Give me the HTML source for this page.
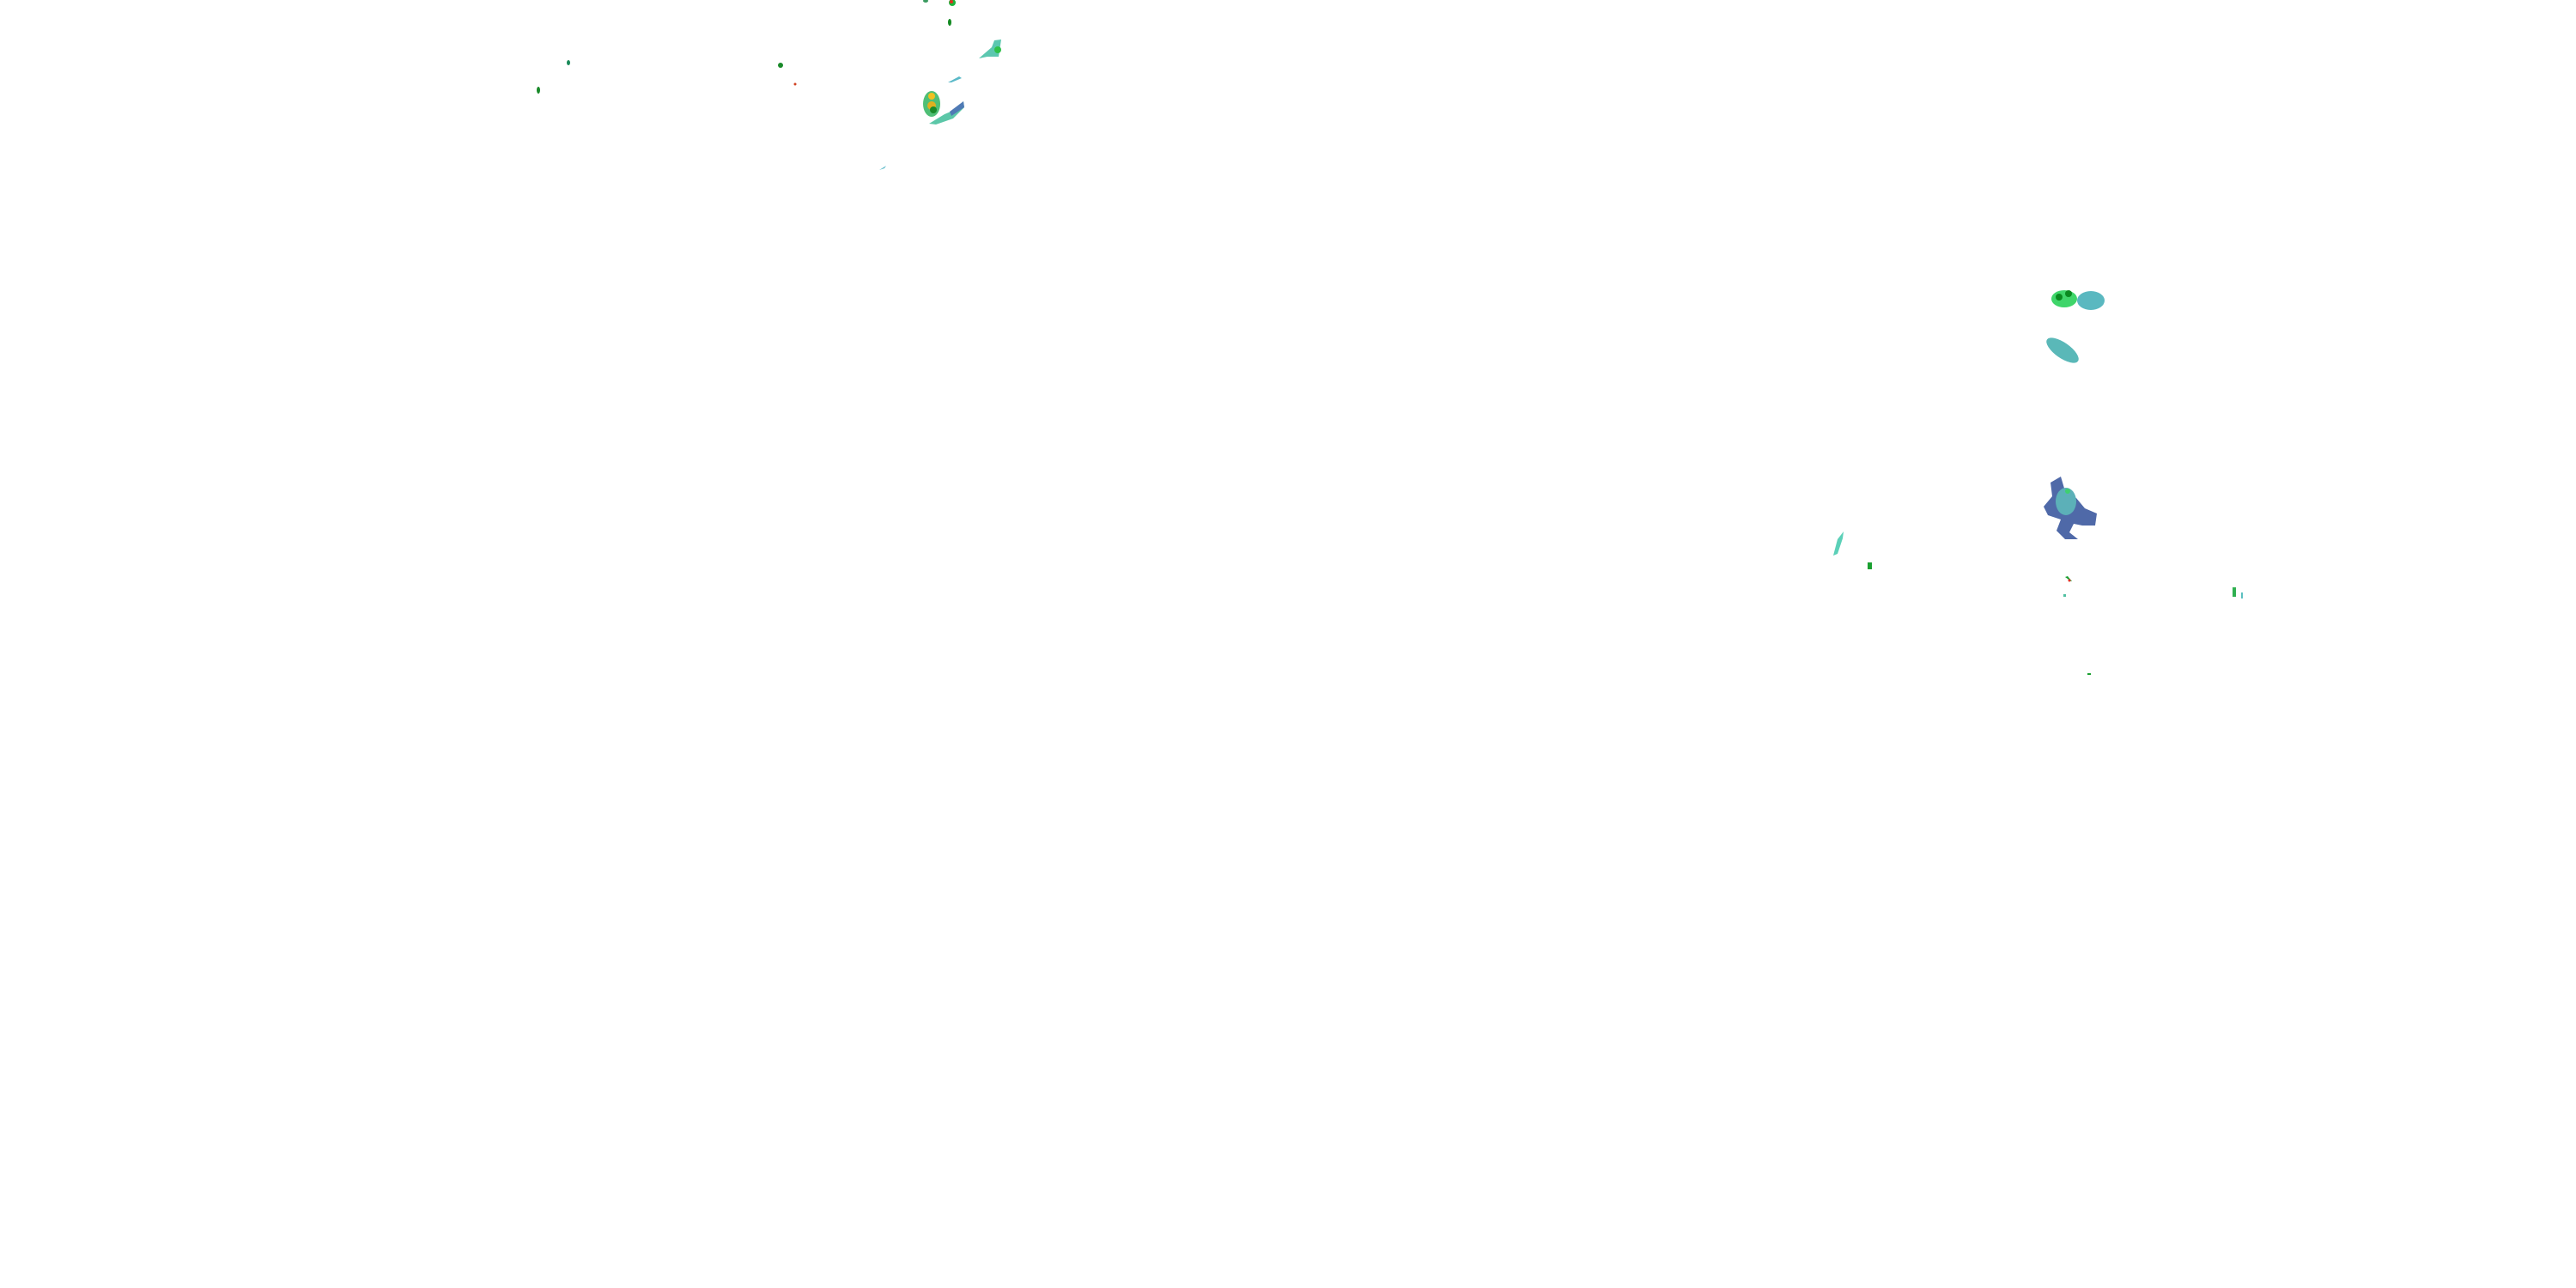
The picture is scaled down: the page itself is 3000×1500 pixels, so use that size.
<!DOCTYPE html>
<html><head><meta charset="utf-8"><style>html,body{margin:0;padding:0;background:#fff;width:3000px;height:1500px;overflow:hidden}</style></head>
<body>
<svg width="3000" height="1500" xmlns="http://www.w3.org/2000/svg">
<ellipse cx="1109" cy="3" rx="4" ry="4" fill="#1db33a"/><circle cx="1108" cy="2" r="2" fill="#e03020"/>
<ellipse cx="1078" cy="1" rx="3" ry="2" fill="#3a9a60"/>
<ellipse cx="1106" cy="26" rx="2" ry="4" fill="#138a22"/>
<path d="M1140 68 L1155 55 L1158 47 L1166 46 L1163 66 L1150 66 Z" fill="#5cc7b0"/>
<circle cx="1162" cy="58" r="4" fill="#2fc14a"/>
<path d="M1104 96 L1117 89 L1120 91 L1108 96 Z" fill="#5ab9c8"/>
<ellipse cx="1085" cy="121" rx="10" ry="15" fill="#4fbf76"/>
<circle cx="1085" cy="112" r="4" fill="#f0c020"/><circle cx="1085" cy="123" r="5" fill="#e0b020"/><circle cx="1087" cy="128" r="4" fill="#1a8a2a"/>
<path d="M1082 144 L1100 133 L1112 128 L1122 118 L1123 125 L1110 138 L1090 145 Z" fill="#5cc7a8"/>
<path d="M1106 130 L1122 118 L1123 125 L1108 135 Z" fill="#4f7ab5"/>
<ellipse cx="627" cy="105" rx="2" ry="4" fill="#1a8a2a"/>
<ellipse cx="662" cy="73" rx="2" ry="3" fill="#1a8a5a"/>
<ellipse cx="909" cy="76" rx="3" ry="3" fill="#1a8a2a"/>
<circle cx="926" cy="98" r="1.5" fill="#d04020"/>
<path d="M1024 198 L1032 193 L1030 196 Z" fill="#5ab9c8"/>
<ellipse cx="2404" cy="348" rx="15" ry="10" fill="#3fd56a"/>
<circle cx="2398" cy="346" r="4" fill="#0a8a20"/><circle cx="2409" cy="342" r="4" fill="#0a8a20"/>
<ellipse cx="2435" cy="350" rx="16" ry="11" fill="#5ab8c0"/>
<ellipse cx="2402" cy="408" rx="22" ry="9" transform="rotate(35 2402 408)" fill="#5ab8b8"/>
<path d="M2388 562 L2400 555 L2405 572 L2418 580 L2428 592 L2442 598 L2440 612 L2425 612 L2415 610 L2410 620 L2420 628 L2405 628 L2395 618 L2400 605 L2385 600 L2380 590 L2390 578 Z" fill="#4f69a8"/>
<ellipse cx="2406" cy="584" rx="12" ry="16" fill="#5cb0b8"/>
<circle cx="2408" cy="572" r="3" fill="#3fcf70"/>
<path d="M2135 647 L2140 628 L2147 619 L2146 627 L2140 645 Z" fill="#5cd0b8"/>
<rect x="2175" y="655" width="5" height="8" fill="#1aa030"/>
<path d="M2405 672 L2412 677 L2413 677 L2408 671 Z" fill="#1aa030"/><circle cx="2410" cy="676" r="1.5" fill="#e03020"/>
<rect x="2403" y="692" width="3" height="3" fill="#4fc0a0"/>
<rect x="2600" y="684" width="4" height="11" fill="#2fb050"/>
<rect x="2610" y="690" width="2" height="7" fill="#5cc0c0"/>
<rect x="2431" y="784" width="4" height="2" fill="#1aa030"/>
</svg>
</body></html>
